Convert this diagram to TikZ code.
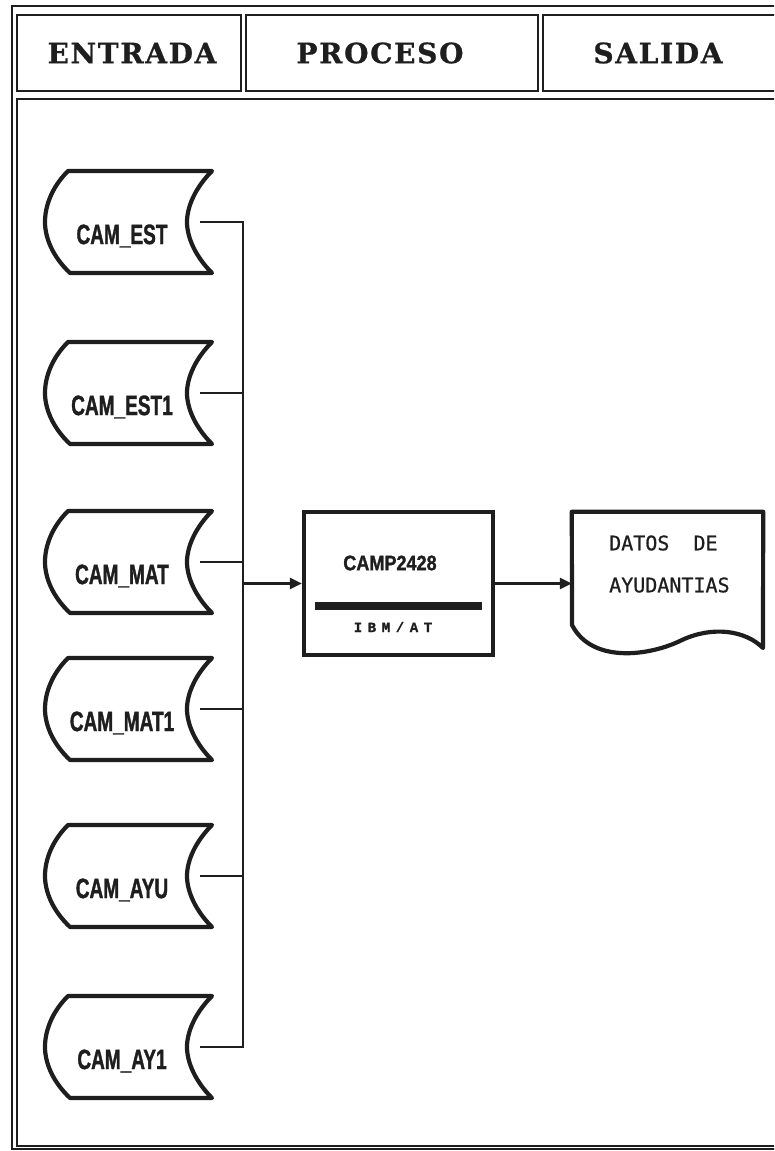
\documentclass[tikz,border=0pt]{standalone}
\usepackage{fontspec}
\usetikzlibrary{arrows.meta,calc}
\newfontface\hdrfont[LetterSpace=6,FakeBold=0.8]{DejaVu Serif Bold}
\newfontface\lblfont[FakeStretch=0.68,FakeBold=1.2]{Liberation Sans Bold}
\newfontface\procfont[FakeStretch=0.86,FakeBold=1.2]{Liberation Sans Bold}
\newfontface\docfont[FakeBold=0.8]{DejaVu Sans Mono}
\newfontface\smallfont[LetterSpace=40,FakeBold=0.8]{Liberation Mono Bold}
\definecolor{ink}{HTML}{1E1E1E}
\tikzset{
  frameline/.style={draw=ink,line width=2.2pt},
  shapeline/.style={draw=ink,line width=4.2pt,line join=round},
  conn/.style={draw=ink,line width=2.4pt},
  arr/.style={conn,-{Triangle[length=12pt,width=11pt]}},
  store/.style={draw=none,minimum width=144pt,minimum height=102pt,inner sep=0pt},
  lbl/.style={text=ink,font=\lblfont\fontsize{28}{28}\selectfont,inner sep=0pt},
  hdr/.style={text=ink,font=\hdrfont\fontsize{28}{28}\selectfont,inner sep=0pt},
  proc/.style={draw=ink,line width=4.4pt,minimum width=189pt,minimum height=143pt,inner sep=0pt},
  docbox/.style={draw=none,minimum width=191pt,minimum height=140pt,inner sep=0pt},
  doctext/.style={text=ink,font=\docfont\fontsize{20}{20}\selectfont,inner sep=0pt,anchor=west},
}
\newcommand\storeoutline[1]{%
  \draw[shapeline] ($(#1)+(-72,-51)$) -- ($(#1)+(72,-51)$)
    .. controls ($(#1)+(55,-34)$) and ($(#1)+(47,-15)$) .. ($(#1)+(47,0)$)
    .. controls ($(#1)+(47,15)$) and ($(#1)+(55,34)$) .. ($(#1)+(72,51)$)
    -- ($(#1)+(-70,51)$)
    .. controls ($(#1)+(-88,34)$) and ($(#1)+(-95,15)$) .. ($(#1)+(-95,0)$)
    .. controls ($(#1)+(-95,-15)$) and ($(#1)+(-89,-34)$) .. cycle;}
\begin{document}
\begin{tikzpicture}[x=1pt,y=-1pt]
\useasboundingbox (0,0) rectangle (774,1151);
\fill[white] (0,0) rectangle (774,1151);
\clip (0,0) rectangle (774,1151);
% frames
\draw[frameline] (12,6) rectangle (820,1149);
\draw[frameline] (17,15) rectangle (241,91);
\draw[frameline] (246,15) rectangle (538,91);
\draw[frameline] (543,15) rectangle (820,91);
\draw[frameline] (17,99) rectangle (820,1146);
% headers
\node[hdr] (h1) at (132,53) {ENTRADA};
\node[hdr] (h2) at (380,53) {PROCESO};
\node[hdr] (h3) at (658,53) {SALIDA};
% storage nodes
\foreach \n/\y/\t in {1/222/CAM\_EST,2/393/CAM\_EST1,3/562/CAM\_MAT,4/709/CAM\_MAT1,5/876/CAM\_AYU,6/1047/CAM\_AY1}{
  \node[store] (s\n) at (140,\y) {};
  \storeoutline{s\n}
  \node[lbl] (s\n t) at ([shift={(-18,14)}]s\n.center) {\t};
}
% bus
\coordinate (bustop) at (243,222);
\coordinate (busbot) at (243,1047);
\draw[conn] ([xshift=-12]s1.east) -- (bustop) -- (busbot) -- ([xshift=-12]s6.east);
\foreach \n in {2,3,4,5}{
  \draw[conn] ([xshift=-12]s\n.east) -- (s\n.east -| bustop);
}
% process
\node[proc] (p) at (398.5,583.5) {};
\node[text=ink,font=\procfont\fontsize{21}{21}\selectfont,inner sep=0pt] (pt) at (390,563) {CAMP2428};
\fill[ink] (315,602) rectangle (482,610);
\node[text=ink,font=\smallfont\fontsize{14}{14}\selectfont,inner sep=0pt] (pa) at (393,627) {IBM/AT};
\draw[arr] (p.west -| bustop) -- (p.west);
% document
\node[docbox] (d) at (667.5,582) {};
\draw[shapeline] (d.north west) -- (d.north east) -- (763,648)
  .. controls (745,630) and (712,626) .. (682,640)
  .. controls (650,656) and (592,664) .. (572,625) -- cycle;
\node[doctext] (d1) at (609,543) {DATOS\ \ DE};
\node[doctext] (d2) at (609,585) {AYUDANTIAS};
\draw[arr] (p.east) -- (p.east -| d.west);
\end{tikzpicture}
\end{document}
